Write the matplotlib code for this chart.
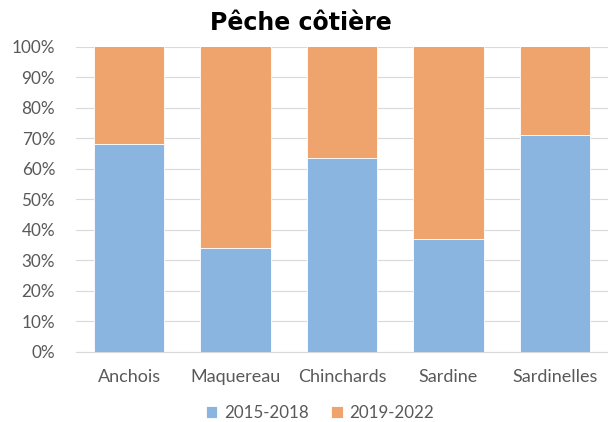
import matplotlib
matplotlib.use("Agg")
import matplotlib.pyplot as plt
import numpy as np

categories = ["Anchois", "Maquereau", "Chinchards", "Sardine", "Sardinelles"]
series_names = ["2015-2018", "2019-2022"]
share_2015_2018 = [68, 34, 63.5, 37, 71]
share_2019_2022 = [100 - v for v in share_2015_2018]
yticks = [0, 10, 20, 30, 40, 50, 60, 70, 80, 90, 100]

blue = "#8AB5E0"
orange = "#EFA36D"
txt = "#595959"

plt.rcParams['font.family'] = ['Lato', 'DejaVu Sans']

fig = plt.figure(figsize=(6.08, 4.22), dpi=100)
ax = fig.add_axes([76/608, 1 - 352/422, (608 - 76)/608, (352 - 46.5)/422])

x = np.arange(len(categories))
w = 0.66
ax.bar(x, share_2015_2018, width=w, color=blue, edgecolor="#ffffff", linewidth=0.6,
       label=series_names[0], zorder=3)
ax.bar(x, share_2019_2022, width=w, bottom=share_2015_2018, color=orange,
       edgecolor="#ffffff", linewidth=0.6, label=series_names[1], zorder=3)

ax.set_xlim(-0.5, len(categories) - 0.5)
ax.set_ylim(0, 100)
ax.set_yticks(yticks)
ax.set_yticklabels([f"{t}%" for t in yticks])
ax.set_xticks(x)
ax.set_xticklabels(categories)
ax.tick_params(axis='both', length=0, colors=txt)
ax.tick_params(axis='x', pad=12, labelsize=13)
ax.tick_params(axis='y', pad=15, labelsize=12.3)
ax.grid(axis='y', color="#D9D9D9", linewidth=0.8, zorder=0)
for s in ["top", "right", "left"]:
    ax.spines[s].set_visible(False)
ax.spines["bottom"].set_color("#D9D9D9")
ax.spines["bottom"].set_linewidth(0.8)

fig.text(301/608, 1 - 23/422, "Pêche côtière", ha="center", va="center",
         fontsize=17, fontweight="bold", color="black", family="DejaVu Sans")

leg = fig.legend(loc="center", bbox_to_anchor=(320/608, 1 - 413/422), ncol=2,
                 frameon=False, fontsize=12.2, handlelength=0.7, handleheight=0.7,
                 handletextpad=0.4, columnspacing=1.3)
for t in leg.get_texts():
    t.set_color(txt)

fig.savefig("out.png", dpi=100)
